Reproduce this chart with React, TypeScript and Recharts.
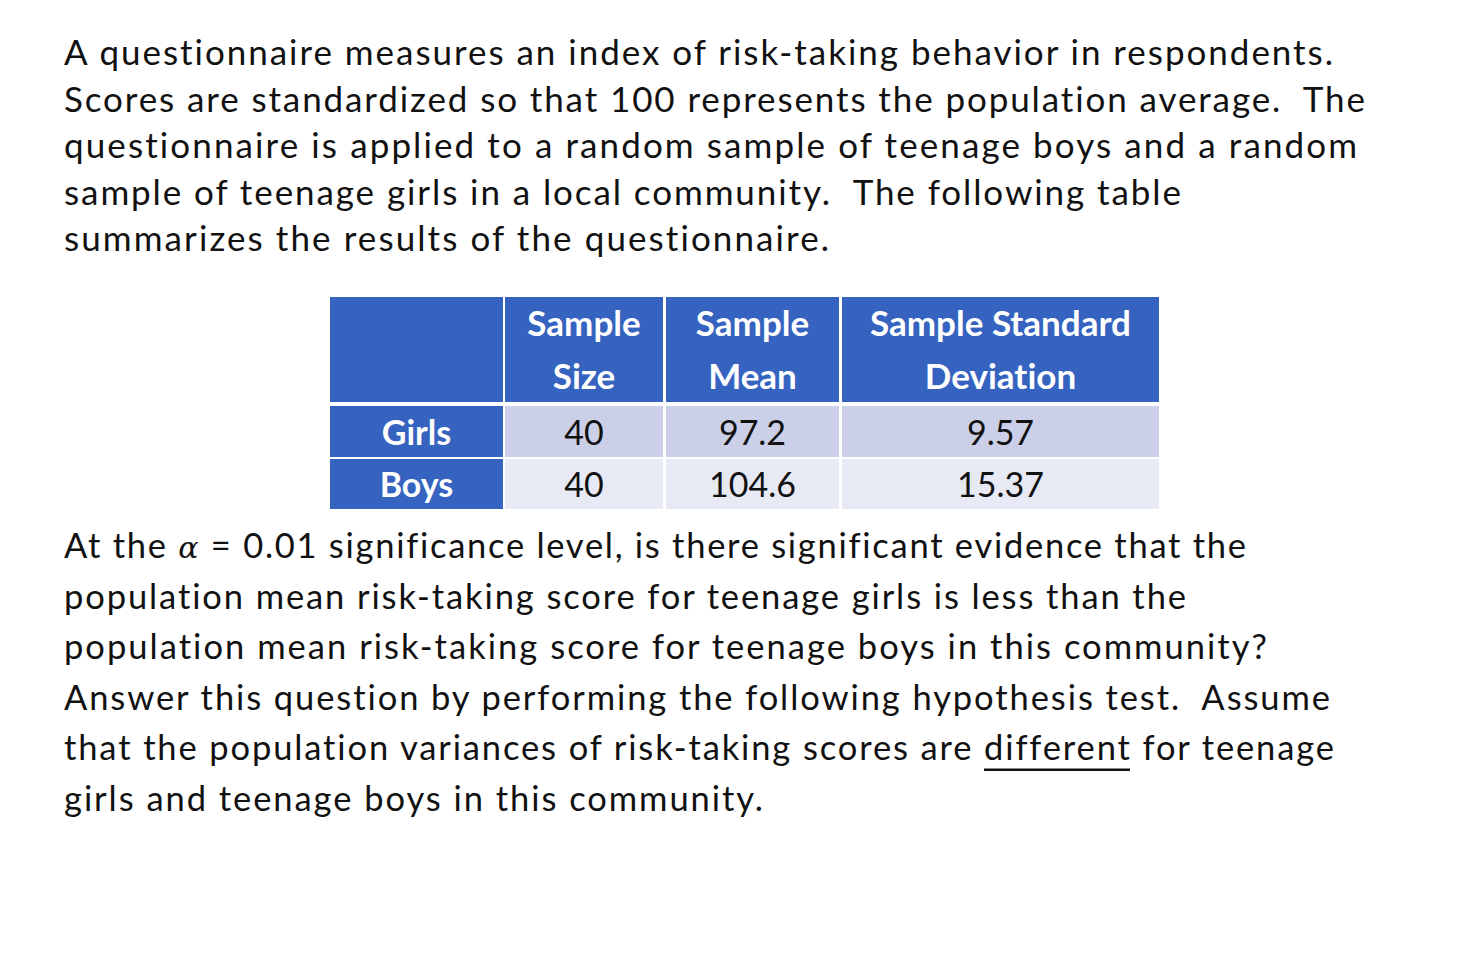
import React from 'react';
import { Surface, Layer, Rectangle } from 'recharts';

// ---- data ----
const introLines = [
  'A questionnaire measures an index of risk-taking behavior in respondents.',
  'Scores are standardized so that 100 represents the population average.  The',
  'questionnaire is applied to a random sample of teenage boys and a random',
  'sample of teenage girls in a local community.  The following table',
  'summarizes the results of the questionnaire.',
];
const introEnds = [1333, 1365, 1357, 1181, 829];

const groups = ['Girls', 'Boys'];
const sampleSizes = ['40', '40'];
const sampleMeans = ['97.2', '104.6'];
const sampleSDs = ['9.57', '15.37'];
const headerLine1 = ['', 'Sample', 'Sample', 'Sample Standard'];
const headerLine2 = ['', 'Size', 'Mean', 'Deviation'];

const questionLines = [
  'At the |α| = 0.01 significance level, is there significant evidence that the',
  'population mean risk-taking score for teenage girls is less than the',
  'population mean risk-taking score for teenage boys in this community?',
  'Answer this question by performing the following hypothesis test.  Assume',
  'that the population variances of risk-taking scores are different for teenage',
  'girls and teenage boys in this community.',
];
const questionEnds = [1246, 1186, 1267, 1330, 1334, 763];
// underline under "different" (line 5)
const underline = { line: 4, x1: 984, x2: 1130 };

// ---- layout ----
const W = 1470;
const H = 980;
const FONT = 'Lato, "Noto Sans", sans-serif';
const TEXT_X = 64;
const colX = [330, 505, 666, 842];
const colR = [503, 663, 839, 1159];
const headerTop = 297;
const headerBottom = 402;
const rowTops = [406, 459];
const rowBottoms = [457, 509];
const BLUE = '#3563bf';
const ROW_BG = ['#cbd0e8', '#e7e9f4'];
const NOLIG: React.CSSProperties = { whiteSpace: 'pre', fontVariantLigatures: 'none', fontFeatureSettings: '"liga" 0' };
const Q_Y0 = 558;
const Q_DY = 50.6;

function renderLine(line: string) {
  const parts: React.ReactNode[] = [];
  const re = /(\|[^|]+\|)/g;
  let last = 0;
  let m: RegExpExecArray | null;
  let k = 0;
  while ((m = re.exec(line)) !== null) {
    if (m.index > last) parts.push(<tspan key={k++}>{line.slice(last, m.index)}</tspan>);
    const tok = m[0];
    parts.push(
      <tspan key={k++} fontStyle="italic" fontFamily='"DejaVu Serif", serif' fontSize={30}>
        {tok.slice(1, -1)}
      </tspan>
    );
    last = m.index + tok.length;
  }
  if (last < line.length) parts.push(<tspan key={k++}>{line.slice(last)}</tspan>);
  return parts;
}

export default function App() {
  const rowValues = [groups, sampleSizes, sampleMeans, sampleSDs];
  return (
    <div style={{ position: 'absolute', left: 0, top: 0, width: W, height: H, background: '#fff' }}>
      <Surface width={W} height={H} viewBox={{ x: 0, y: 0, width: W, height: H }}>
        <Layer>
          {introLines.map((l, i) => (
            <text
              key={'i' + i}
              x={TEXT_X}
              y={65 + i * 46.5}
              fontFamily={FONT}
              fontSize={35}
              fill="#111"
              textLength={introEnds[i] - TEXT_X}
              lengthAdjust="spacing"
              style={NOLIG}
            >
              {l}
            </text>
          ))}
        </Layer>
        <Layer>
          {colX.map((x, c) => (
            <Rectangle key={'h' + c} x={x} y={headerTop} width={colR[c] - x} height={headerBottom - headerTop} fill={BLUE} />
          ))}
          {colX.map((x, c) => (
            <g key={'ht' + c}>
              <text x={(x + colR[c]) / 2} y={336} textAnchor="middle" fontFamily={FONT} fontWeight="bold" fontSize={35} fill="#fff" style={NOLIG}>
                {headerLine1[c]}
              </text>
              <text x={(x + colR[c]) / 2} y={389} textAnchor="middle" fontFamily={FONT} fontWeight="bold" fontSize={35} fill="#fff" style={NOLIG}>
                {headerLine2[c]}
              </text>
            </g>
          ))}
          {groups.map((g, r) =>
            colX.map((x, c) => (
              <g key={'r' + r + 'c' + c}>
                <Rectangle
                  x={x}
                  y={rowTops[r]}
                  width={colR[c] - x}
                  height={rowBottoms[r] - rowTops[r]}
                  fill={c === 0 ? BLUE : ROW_BG[r]}
                />
                <text
                  x={(x + colR[c]) / 2}
                  y={r === 0 ? 445 : 497}
                  textAnchor="middle"
                  fontFamily={FONT}
                  fontWeight={c === 0 ? 'bold' : 'normal'}
                  fontSize={34}
                  fill={c === 0 ? '#fff' : '#111'}
                  style={NOLIG}
                >
                  {rowValues[c][r]}
                </text>
              </g>
            ))
          )}
        </Layer>
        <Layer>
          {questionLines.map((l, i) => (
            <text
              key={'q' + i}
              x={TEXT_X}
              y={Q_Y0 + i * Q_DY}
              fontFamily={FONT}
              fontSize={34.5}
              fill="#111"
              textLength={questionEnds[i] - TEXT_X}
              lengthAdjust="spacing"
              style={NOLIG}
            >
              {renderLine(l)}
            </text>
          ))}
          <Rectangle
            x={underline.x1}
            y={Q_Y0 + underline.line * Q_DY + 8}
            width={underline.x2 - underline.x1}
            height={2.5}
            fill="#111"
          />
        </Layer>
      </Surface>
    </div>
  );
}
